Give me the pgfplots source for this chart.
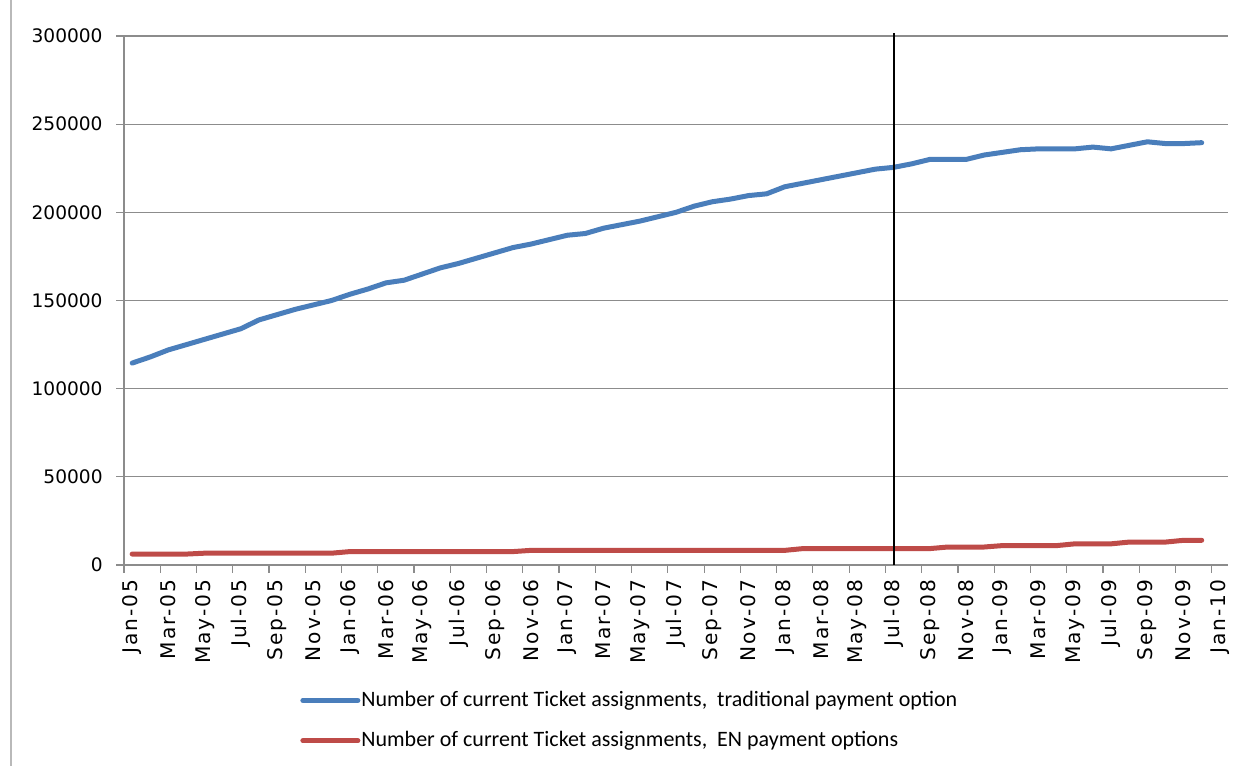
\documentclass[border=0pt]{standalone}
\usepackage{pgfplots}
\usepackage{pgfplotstable}
\pgfplotsset{compat=1.18}
\usepackage{fontspec}
\setmainfont{Carlito}
\newfontfamily\tickfont{DejaVu Sans}
\newfontfamily\xtickfont[LetterSpace=10]{DejaVu Sans}

\definecolor{seriesblue}{HTML}{4A7EBB}
\definecolor{seriesred}{HTML}{BE4B48}
\definecolor{gridgray}{HTML}{8C8C8C}

% month index (0 = Jan-05) and number of current assignments
\pgfplotstableread{
m v
0 114500
1 118000
2 122000
3 125000
4 128000
5 131000
6 134000
7 139000
8 142000
9 145000
10 147500
11 150000
12 153500
13 156500
14 160000
15 161500
16 165000
17 168500
18 171000
19 174000
20 177000
21 180000
22 182000
23 184500
24 187000
25 188000
26 191000
27 193000
28 195000
29 197500
30 200000
31 203500
32 206000
33 207500
34 209500
35 210500
36 214500
37 216500
38 218500
39 220500
40 222500
41 224500
42 225500
43 227500
44 230000
45 230000
46 230000
47 232500
48 234000
49 235500
50 236000
51 236000
52 236000
53 237000
54 236000
55 238000
56 240000
57 239000
58 239000
59 239500
}\traditional

\pgfplotstableread{
m v
0 6200
1 6200
2 6200
3 6200
4 6700
5 6700
6 6700
7 6700
8 6700
9 6700
10 6700
11 6700
12 7600
13 7600
14 7600
15 7600
16 7600
17 7600
18 7600
19 7600
20 7600
21 7600
22 8300
23 8300
24 8300
25 8300
26 8300
27 8300
28 8300
29 8300
30 8300
31 8300
32 8300
33 8300
34 8300
35 8300
36 8300
37 9300
38 9300
39 9300
40 9300
41 9300
42 9300
43 9300
44 9300
45 10200
46 10200
47 10200
48 11000
49 11000
50 11000
51 11000
52 12000
53 12000
54 12000
55 13000
56 13000
57 13000
58 14000
59 14000
}\enpayment

\begin{document}
\begin{tikzpicture}
\path[use as bounding box] (0,0) rectangle (620.5bp,383bp);
\draw[gray!55, line width=0.6bp] (5.5bp,0) -- (5.5bp,383bp);
\begin{axis}[
  at={(62bp,100.5bp)}, anchor=south west,
  scale only axis, width=552bp, height=264.5bp,
  xmin=-0.45, xmax=60.45,
  ymin=0, ymax=300000,
  axis x line*=bottom, axis y line*=left,
  axis line style={gridgray, line width=0.6bp},
  every tick/.style={gridgray, line width=0.6bp},
  tick align=outside,
  xtick={0,2,...,60},
  major x tick style={draw=none},
  minor xtick={-0.45,1.55,...,59.6},
  minor tick length=4bp,
  major tick length=4bp,
  xticklabels={Jan-05,Mar-05,May-05,Jul-05,Sep-05,Nov-05,Jan-06,Mar-06,May-06,Jul-06,Sep-06,Nov-06,Jan-07,Mar-07,May-07,Jul-07,Sep-07,Nov-07,Jan-08,Mar-08,May-08,Jul-08,Sep-08,Nov-08,Jan-09,Mar-09,May-09,Jul-09,Sep-09,Nov-09,Jan-10},
  xticklabel style={rotate=90, anchor=east, inner sep=0pt, xshift=-3bp,
    font=\xtickfont\fontsize{10.1bp}{12bp}\selectfont},
  ytick={0,50000,...,300000},
  yticklabel style={font=\tickfont\fontsize{9.3bp}{11bp}\selectfont, inner sep=0pt, xshift=-6.5bp},
  /pgf/number format/assume math mode=true,
  /pgf/number format/.cd, fixed, 1000 sep={},
  /pgfplots/.cd,
  scaled y ticks=false,
  ymajorgrids,
  grid style={gridgray, line width=0.6bp},
  clip=false,
  legend cell align=left,
  legend style={at={(rel axis cs:0.1594,-0.238)}, anchor=north west,
    draw=none, fill=none, inner sep=0pt, row sep=11bp,
    nodes={inner xsep=0.5bp, inner ysep=0pt},
    font=\fontsize{11bp}{13bp}\selectfont},
  legend image code/.code={\draw[#1] (0bp,0bp) -- (27.5bp,0bp);},
]
\addplot[seriesblue, line width=2.5bp, line join=round, line cap=round]
  table[x=m, y=v] {\traditional};
\addlegendentry{Number of current Ticket assignments,\ \ traditional payment option}
\addplot[seriesred, line width=2.5bp, line join=round, line cap=round]
  table[x=m, y=v] {\enpayment};
\addlegendentry{Number of current Ticket assignments,\ \ EN payment options}
\draw[black, line width=1bp] (axis cs:42,0) -- (axis cs:42,301800);
\end{axis}
\end{tikzpicture}
\end{document}
